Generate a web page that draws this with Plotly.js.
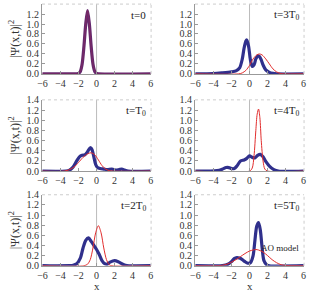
<!DOCTYPE html>
<html><head><meta charset="utf-8">
<script src="https://cdn.plot.ly/plotly-3.0.1.min.js"></script>
<style>body{margin:0;padding:0;background:#fff}#c{width:309px;height:292px}</style>
</head><body><div id="c"></div>
<script>
// Panel t=0
const x0 = [-6,-2.4,-2.2,-2.0,-1.8,-1.6,-1.4,-1.2,-1.0,-0.8,-0.6,-0.4,-0.2,0.0,0.2,6];
const q0 = [0,0,0.002,0.01,0.05,0.2,0.55,1.0,1.27,1.0,0.55,0.2,0.05,0.01,0.002,0];
const a0 = [0,0,0.002,0.01,0.05,0.2,0.55,1.0,1.27,1.0,0.55,0.2,0.05,0.01,0.002,0];
// Panel t=T0
const xq1 = [-6,-3.4,-3.0,-2.6,-2.2,-1.9,-1.6,-1.3,-1.0,-0.8,-0.65,-0.5,-0.3,-0.1,0.1,0.4,0.8,1.2,1.7,2.1,2.5,2.8,3.1,3.5,6];
const q1  = [0,0.003,0.02,0.08,0.2,0.28,0.31,0.32,0.38,0.44,0.46,0.42,0.28,0.13,0.07,0.05,0.04,0.03,0.04,0.02,0.03,0.04,0.02,0,0];
const xa1 = [-6,-3.6,-3.0,-2.5,-2.0,-1.5,-1.0,-0.6,-0.2,0.2,0.6,1.0,1.4,1.8,6];
const a1  = [0,0,0.03,0.08,0.17,0.27,0.34,0.36,0.32,0.22,0.11,0.04,0.01,0,0];
// Panel t=2T0
const xq2 = [-6,-3,-2.6,-2.2,-1.8,-1.5,-1.2,-0.9,-0.6,-0.3,0.0,0.3,0.6,0.9,1.15,1.5,2.0,2.4,2.8,3.2,3.6,6];
const q2  = [0,0.003,0.01,0.04,0.15,0.35,0.5,0.55,0.48,0.4,0.32,0.22,0.1,0.04,0.03,0.07,0.1,0.08,0.04,0.01,0,0];
const xa2 = [-6,-1.4,-1.0,-0.7,-0.4,-0.1,0.2,0.5,0.8,1.1,1.4,1.7,6];
const a2  = [0,0,0.03,0.12,0.35,0.65,0.79,0.65,0.35,0.12,0.02,0,0];
// Panel t=3T0
const xq3 = [-6,-4,-3,-2,-1.5,-1.1,-0.8,-0.6,-0.4,-0.3,-0.1,0.1,0.3,0.5,0.7,0.9,1.1,1.3,1.5,1.8,2.2,2.6,3.0,6];
const q3  = [0,0.005,0.02,0.04,0.06,0.12,0.3,0.52,0.66,0.68,0.55,0.28,0.15,0.18,0.3,0.36,0.35,0.28,0.18,0.08,0.03,0.01,0,0];
const xa3 = [-6,-1.2,-0.8,-0.4,0.0,0.4,0.8,1.1,1.4,1.8,2.2,2.6,3.0,3.4,3.8,6];
const a3  = [0,0,0.02,0.07,0.17,0.3,0.38,0.4,0.38,0.3,0.2,0.1,0.04,0.01,0,0];
// Panel t=4T0
const xq4 = [-6,-3.6,-3.0,-2.6,-2.3,-2.0,-1.7,-1.4,-1.0,-0.6,-0.3,0.0,0.3,0.6,0.9,1.2,1.5,1.8,2.2,2.7,3.2,6];
const q4  = [0,0.01,0.04,0.07,0.07,0.05,0.05,0.1,0.2,0.22,0.25,0.3,0.27,0.26,0.31,0.33,0.28,0.19,0.1,0.03,0,0];
const xa4 = [-6,0.0,0.3,0.5,0.7,0.85,1.0,1.15,1.3,1.5,1.7,2.0,6];
const a4  = [0,0,0.06,0.3,0.8,1.12,1.22,1.05,0.6,0.2,0.04,0,0];
// Panel t=5T0
const xq5 = [-6,-3,-2.4,-2.0,-1.7,-1.4,-1.1,-0.8,-0.5,-0.2,0.1,0.4,0.6,0.8,1.0,1.2,1.4,1.6,1.9,2.2,6];
const q5  = [0,0.005,0.03,0.08,0.14,0.16,0.15,0.12,0.08,0.05,0.06,0.2,0.5,0.78,0.85,0.7,0.35,0.1,0.02,0,0];
const xa5 = [-6,-3.4,-3.0,-2.5,-2.0,-1.5,-1.0,-0.5,0.0,0.4,0.7,1.0,1.5,2.0,2.5,3.0,3.5,4.0,6];
const a5  = [0,0,0.01,0.03,0.07,0.12,0.18,0.24,0.29,0.31,0.32,0.31,0.27,0.2,0.12,0.06,0.02,0.005,0];

const labels = ["t=0","t=3T<sub>0</sub>","t=T<sub>0</sub>","t=4T<sub>0</sub>","t=2T<sub>0</sub>","t=5T<sub>0</sub>"];
const xTicks = [-6,-4,-2,0,2,4,6];
const yTicks = [0,0.2,0.4,0.6,0.8,1.0,1.2,1.4];

const panels = [
  {xq:x0,q:q0,xa:x0,a:a0},
  {xq:xq3,q:q3,xa:xa3,a:a3},
  {xq:xq1,q:q1,xa:xa1,a:a1},
  {xq:xq4,q:q4,xa:xa4,a:a4},
  {xq:xq2,q:q2,xa:xa2,a:a2},
  {xq:xq5,q:q5,xa:xa5,a:a5}
];

const blue = 'rgb(48,48,140)';
const red = 'rgb(225,45,45)';
const font = {family:'Liberation Serif, Times New Roman, serif', size:10, color:'#333'};
const xDom = [[0.136,0.489],[0.631,0.984]];
const yDom = [[0.747,0.986],[0.414,0.658],[0.09,0.333]];

const data = [];
const layout = {width:309,height:292,margin:{l:0,r:0,t:0,b:0},showlegend:false,
  paper_bgcolor:'#fff',plot_bgcolor:'#fff',font:font,annotations:[],shapes:[]};

panels.forEach((p,i)=>{
  const n = i+1, sx = n===1?'':n;
  const xa = 'x'+sx, ya = 'y'+sx;
  const col = i%2, row = Math.floor(i/2);
  layout.shapes.push({type:'line',xref:xa,yref:ya,x0:0,x1:0,y0:0,y1:1.4,layer:'below',line:{color:'#bbb',width:1}});
  data.push({x:p.xq,y:p.q,xaxis:xa,yaxis:ya,mode:'lines',line:{color:i===0?'rgb(100,40,110)':blue,width:3.2,shape:'spline',smoothing:0.8},hoverinfo:'skip'});
  data.push({x:p.xa,y:p.a,xaxis:xa,yaxis:ya,mode:'lines',line:{color:i===0?'rgba(140,40,90,0.6)':red,width:1,shape:'spline',smoothing:0.8},hoverinfo:'skip'});
  layout['xaxis'+sx] = {domain:xDom[col],anchor:ya,range:[-6.05,6.05],tickvals:xTicks,ticktext:xTicks.map(v=>v<0?'\u2212'+Math.abs(v):String(v)),
    showgrid:false,zeroline:false,showline:true,linecolor:'#999',linewidth:1,
    ticks:'inside',ticklen:3,tickcolor:'#999',tickfont:font};
  layout['yaxis'+sx] = {domain:yDom[row],anchor:xa,range:[0,1.4],tickvals:yTicks,ticktext:yTicks.map(v=>v.toFixed(1)),
    showgrid:false,zeroline:false,showline:true,linecolor:'#999',linewidth:1,
    ticks:'inside',ticklen:3,tickcolor:'#999',tickfont:font,
    title: col===0?{text:'|\u03A8(x,t)|<sup>2</sup>',font:{family:font.family,size:12,color:'#333'},standoff:4}:undefined};
  layout.annotations.push({xref:xa+' domain',yref:ya+' domain',x:0.97,y:0.84,xanchor:'right',yanchor:'middle',showarrow:false,
    text:labels[i],font:{family:font.family,size:11,color:'#222'}});
  if (row===2) layout.annotations.push({xref:xa+' domain',yref:'paper',x:0.5,y:0.0,xanchor:'center',yanchor:'bottom',showarrow:false,
    borderpad:0,yshift:-1,text:'x',font:{family:font.family,size:11,color:'#333'}});
  layout.shapes.push({type:'line',xref:xa+' domain',yref:ya+' domain',x0:0,x1:1,y0:1,y1:1,line:{color:'#ccc',width:1,dash:'dot'}});
  layout.shapes.push({type:'line',xref:xa+' domain',yref:ya+' domain',x0:1,x1:1,y0:0,y1:1,line:{color:'#ccc',width:1,dash:'dot'}});
});
layout.annotations.push({xref:'x6',yref:'y6',x:5.7,y:0.34,xanchor:'right',yanchor:'middle',showarrow:false,
  text:'AO model',font:{family:font.family,size:9,color:'#222'}});

Plotly.newPlot('c',data,layout,{staticPlot:true,displayModeBar:false});
</script></body></html>
